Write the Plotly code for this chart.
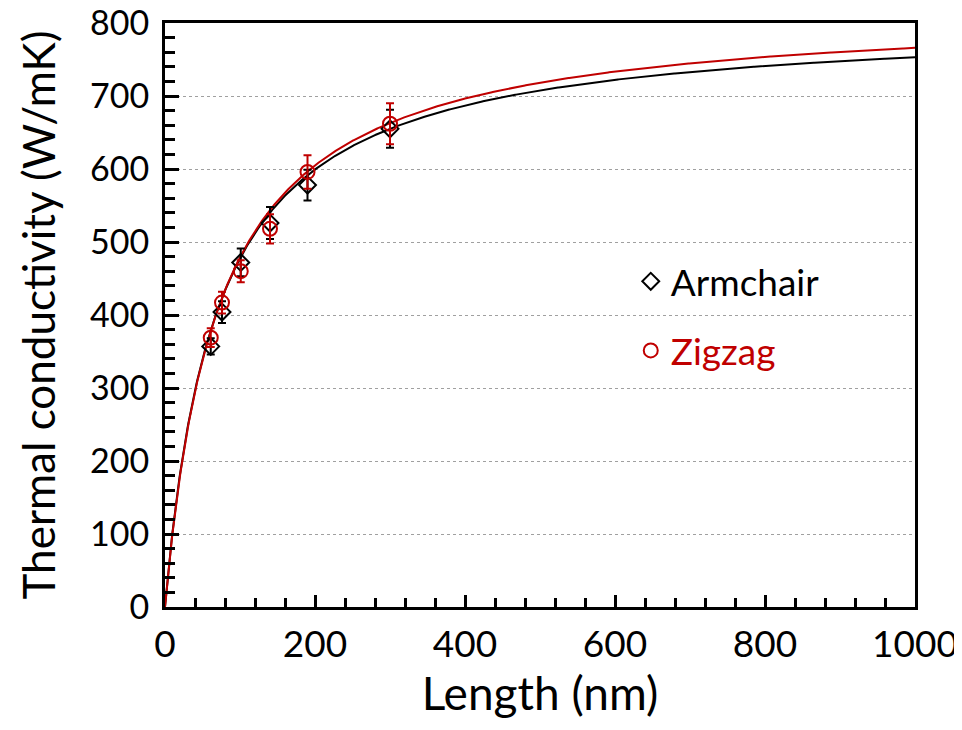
import numpy as np
import plotly.graph_objects as go

# Data
length_nm = [61, 76, 101, 140, 190, 300]
armchair_k = [357, 404, 472, 526, 578, 655]
armchair_err = [11, 15, 19, 22, 21, 26]
zigzag_k = [369, 417, 460, 518, 596, 662]
zigzag_err = [13, 15, 15, 20, 23, 28]

# Fit parameters of kappa(L) = k_inf * L / (L + lambda)
armchair_fit = {"k_inf": 804.6, "lam": 68.5}
zigzag_fit = {"k_inf": 820.6, "lam": 71.3}

x_ticks = [0, 200, 400, 600, 800, 1000]
y_ticks = [0, 100, 200, 300, 400, 500, 600, 700, 800]

BLACK = "#000000"
RED = "#C00000"
FONT = "Lato"

L = np.linspace(0, 1000, 1001)
def fit_curve(p):
    return p["k_inf"] * L / (L + p["lam"])

fig = go.Figure()
fig.add_trace(go.Scatter(x=L, y=fit_curve(armchair_fit), mode="lines",
                         line=dict(color=BLACK, width=2), showlegend=False))
fig.add_trace(go.Scatter(x=L, y=fit_curve(zigzag_fit), mode="lines",
                         line=dict(color=RED, width=2), showlegend=False))
fig.add_trace(go.Scatter(
    x=length_nm, y=armchair_k, mode="markers", name="Armchair",
    legendgroup="a",
    marker=dict(symbol="diamond-open", size=13, color=BLACK, line=dict(width=2, color=BLACK)),
    error_y=dict(type="data", array=armchair_err, color=BLACK, thickness=2, width=4)))
fig.add_trace(go.Scatter(
    x=length_nm, y=zigzag_k, mode="markers",
    name="<span style='color:%s'>Zigzag</span>" % RED,
    legendgroup="z",
    marker=dict(symbol="circle-open", size=14, color=RED, line=dict(width=2, color=RED)),
    error_y=dict(type="data", array=zigzag_err, color=RED, thickness=2, width=4)))

fig.update_layout(
    width=954, height=722,
    margin=dict(l=157, r=47, t=15, b=123),
    paper_bgcolor="white", plot_bgcolor="white",
    font=dict(family=FONT, color=BLACK, size=36),
    showlegend=True,
    legend=dict(x=0.621, y=0.61, xanchor="left", yanchor="top",
                bgcolor="rgba(0,0,0,0)", font=dict(size=37, color=BLACK),
                tracegroupgap=18, itemsizing="trace"),
)
fig.update_xaxes(
    range=[0, 1000], tickvals=x_ticks, ticktext=[str(v) for v in x_ticks],
    showgrid=False, zeroline=False, automargin=False,
    showline=True, linecolor=BLACK, linewidth=3, mirror=True,
    ticks="inside", ticklen=12, tickwidth=3, tickcolor=BLACK,
    minor=dict(dtick=40, ticks="inside", ticklen=9, tickwidth=3, tickcolor=BLACK, showgrid=False),
    tickfont=dict(size=37, family=FONT), ticklabelstandoff=3, ticklabeloverflow="allow",
    title=dict(text="Length (nm)", font=dict(size=46, family=FONT), standoff=2),
)
fig.update_yaxes(
    range=[0, 800], tickvals=y_ticks, ticktext=[str(v) for v in y_ticks],
    showgrid=True, gridcolor="#A0A0A0", griddash="dot", gridwidth=1, zeroline=False,
    automargin=False,
    showline=True, linecolor=BLACK, linewidth=3, mirror=True,
    ticks="inside", ticklen=14, tickwidth=3, tickcolor=BLACK,
    minor=dict(dtick=20, ticks="inside", ticklen=10, tickwidth=3, tickcolor=BLACK, showgrid=False),
    tickfont=dict(size=34, family=FONT), ticklabelstandoff=6, ticklabeloverflow="allow",
    title=dict(text="Thermal conductivity (W/mK)", font=dict(size=44, family=FONT), standoff=21),
)

fig.write_html("out.html")
